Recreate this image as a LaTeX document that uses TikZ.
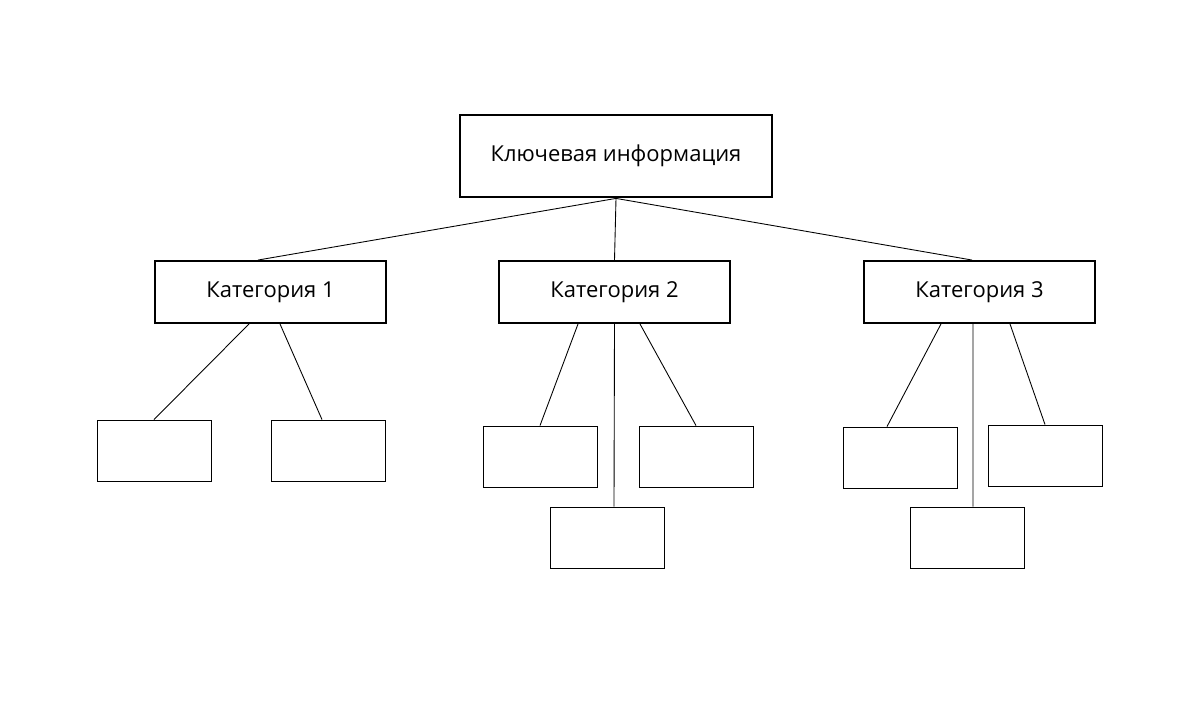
\documentclass[tikz,border=0pt]{standalone}
\usepackage{fontspec}
\setmainfont{Open Sans}
\usetikzlibrary{positioning,calc}

\begin{document}
\begin{tikzpicture}[x=0.02cm, y=-0.02cm,
        keybox/.style={rectangle, draw, line width=1.6pt, minimum width=6.24cm, minimum height=1.64cm, font=\fontsize{12.5}{14}\selectfont},
        catbox/.style={rectangle, draw, line width=1.1pt, minimum width=4.62cm, minimum height=1.24cm, font=\fontsize{12.5}{14}\selectfont},
        leaf/.style={rectangle, draw, line width=0.5pt, minimum width=2.28cm, minimum height=1.22cm},
        line/.style={draw, line width=0.5pt}]
        \useasboundingbox (0,0) rectangle (1200,700);
        \node [keybox] (key) at (616,156) {Ключевая информация};
        \node [catbox] (cat1) at (270.5,292) {Категория 1};
        \node [catbox] (cat2) at (614.5,292) {Категория 2};
        \node [catbox] (cat3) at (979.5,292) {Категория 3};

        \node [leaf] (l1a) at (154,450.5) {};
        \node [leaf] (l1b) at (328,450.5) {};
        \node [leaf] (l2a) at (540,456.5) {};
        \node [leaf] (l2b) at (696,456.5) {};
        \node [leaf] (l2c) at (607,537.5) {};
        \node [leaf] (l3a) at (900,457.5) {};
        \node [leaf] (l3b) at (1045,455.5) {};
        \node [leaf] (l3c) at (967,537.5) {};

        \path [line] (key.south) -- ([xshift=-0.25cm]cat1.north);
        \path [line] (key.south) -- (cat2.north);
        \path [line] (key.south) -- ([xshift=-0.15cm]cat3.north);

        \path [line] ([xshift=-0.43cm]cat1.south) -- (l1a.north);
        \path [line] ([xshift=0.19cm]cat1.south) -- ([xshift=-0.12cm]l1b.north);
        \path [line] ([xshift=-0.73cm]cat2.south) -- (l2a.north);
        \path [line] (cat2.south) -- ([xshift=0.14cm]l2c.north);
        \path [line] ([xshift=0.51cm]cat2.south) -- (l2b.north);
        \path [line] ([xshift=-0.77cm]cat3.south) -- ([xshift=-0.26cm]l3a.north);
        \path [line] ([xshift=-0.13cm]cat3.south) -- ([xshift=0.12cm]l3c.north);
        \path [line] ([xshift=0.61cm]cat3.south) -- (l3b.north);
    \end{tikzpicture}
\end{document}
